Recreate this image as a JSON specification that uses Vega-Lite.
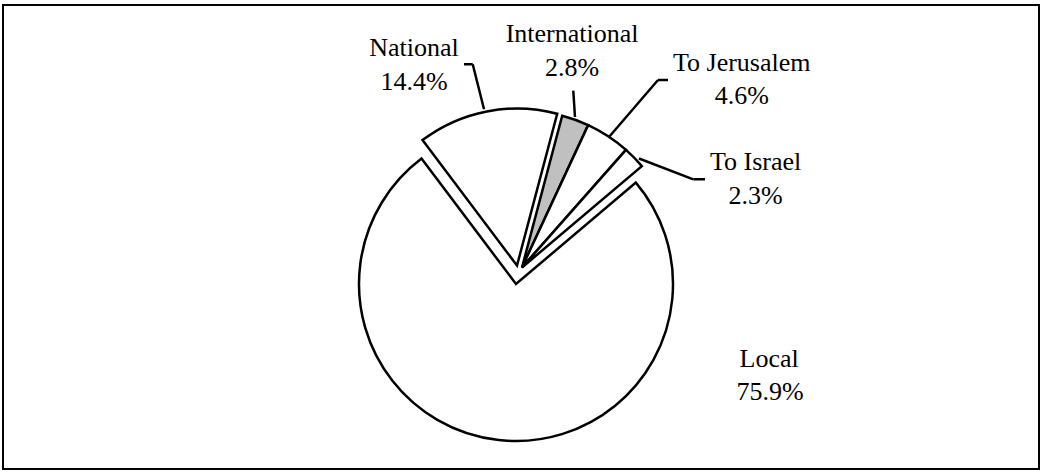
{
  "$schema": "https://vega.github.io/schema/vega-lite/v6.json",
  "width": 1036,
  "height": 464,
  "autosize": {"type": "none"},
  "padding": {"left": 3, "top": 5, "right": 5, "bottom": 3},
  "background": "white",
  "view": {"stroke": "black", "strokeWidth": 2},
  "config": {
    "view": {"stroke": "black", "strokeWidth": 2},
    "text": {"font": "Liberation Serif", "fontSize": 26, "fill": "black", "align": "center", "baseline": "alphabetic"}
  },
  "data": {
    "values": [
      {"cat": "National", "share": 0.144, "ord": 1},
      {"cat": "International", "share": 0.028, "ord": 2},
      {"cat": "To Jerusalem", "share": 0.046, "ord": 3},
      {"cat": "To Israel", "share": 0.023, "ord": 4},
      {"cat": "Local", "share": 0.759, "ord": 5}
    ]
  },
  "encoding": {
    "theta": {"field": "share", "type": "quantitative", "stack": true, "scale": {"range": [-0.64577, 5.63742]}},
    "order": {"field": "ord", "type": "quantitative"}
  },
  "layer": [
    {
      "mark": {"type": "arc", "radius": 157, "stroke": "black", "strokeWidth": 2.5, "fill": "white", "xOffset": -5, "yOffset": 47},
      "encoding": {"opacity": {"condition": {"test": "datum.cat === 'Local'", "value": 1}, "value": 0}}
    },
    {
      "mark": {"type": "arc", "radius": 157, "stroke": "black", "strokeWidth": 2.5, "fill": "white", "xOffset": -4, "yOffset": 28.5},
      "encoding": {"opacity": {"condition": {"test": "datum.cat === 'National'", "value": 1}, "value": 0}}
    },
    {
      "mark": {"type": "arc", "radius": 157, "stroke": "black", "strokeWidth": 2.5, "xOffset": 1, "yOffset": 30.5},
      "encoding": {
        "fill": {"condition": {"test": "datum.cat === 'International'", "value": "#c0c0c0"}, "value": "white"},
        "opacity": {"condition": {"test": "datum.cat === 'International' || datum.cat === 'To Jerusalem' || datum.cat === 'To Israel'", "value": 1}, "value": 0}
      }
    },
    {
      "mark": {"type": "arc", "radius": 96.4, "radius2": 50, "padAngle": 3, "fill": "transparent", "stroke": "black", "strokeWidth": 2.5, "thetaOffset": -0.0525, "theta2Offset": -0.0525, "xOffset": -24.8, "yOffset": -79.2},
      "encoding": {"opacity": {"condition": {"test": "datum.cat === 'National'", "value": 1}, "value": 0}}
    },
    {
      "mark": {"type": "arc", "radius": 58.7, "radius2": 50, "padAngle": 3, "fill": "transparent", "stroke": "black", "strokeWidth": 2.5, "thetaOffset": -1.3774, "theta2Offset": -1.3774, "xOffset": 1.7, "yOffset": -172.7},
      "encoding": {"opacity": {"condition": {"test": "datum.cat === 'National'", "value": 1}, "value": 0}}
    },
    {
      "mark": {"type": "arc", "radius": 76.4, "radius2": 50, "padAngle": 3, "fill": "transparent", "stroke": "black", "strokeWidth": 2.5, "thetaOffset": -0.4115, "theta2Offset": -0.4115, "xOffset": 57.2, "yOffset": -70.1},
      "encoding": {"opacity": {"condition": {"test": "datum.cat === 'International'", "value": 1}, "value": 0}}
    },
    {
      "mark": {"type": "arc", "radius": 125.2, "radius2": 50, "padAngle": 3, "fill": "transparent", "stroke": "black", "strokeWidth": 2.5, "thetaOffset": 0.1307, "theta2Offset": 0.1307, "xOffset": 55.4, "yOffset": -62.1},
      "encoding": {"opacity": {"condition": {"test": "datum.cat === 'To Jerusalem'", "value": 1}, "value": 0}}
    },
    {
      "mark": {"type": "arc", "radius": 60, "radius2": 50, "padAngle": 3, "fill": "transparent", "stroke": "black", "strokeWidth": 2.5, "thetaOffset": 0.9913, "theta2Offset": 0.9913, "xOffset": 87, "yOffset": -157},
      "encoding": {"opacity": {"condition": {"test": "datum.cat === 'To Jerusalem'", "value": 1}, "value": 0}}
    },
    {
      "mark": {"type": "arc", "radius": 108.2, "radius2": 50, "padAngle": 3, "fill": "transparent", "stroke": "black", "strokeWidth": 2.5, "thetaOffset": 1.1404, "theta2Offset": 1.1404, "xOffset": 71.3, "yOffset": -96.4},
      "encoding": {"opacity": {"condition": {"test": "datum.cat === 'To Israel'", "value": 1}, "value": 0}}
    },
    {
      "mark": {"type": "arc", "radius": 61.7, "radius2": 50, "padAngle": 3, "fill": "transparent", "stroke": "black", "strokeWidth": 2.5, "thetaOffset": 0.7746, "theta2Offset": 0.7746, "xOffset": 122.3, "yOffset": -57.7},
      "encoding": {"opacity": {"condition": {"test": "datum.cat === 'To Israel'", "value": 1}, "value": 0}}
    },
    {
      "mark": {"type": "text", "radius": 215, "dx": -65.7, "dy": 30},
      "encoding": {"text": {"field": "cat"}, "opacity": {"condition": {"test": "datum.cat === 'National'", "value": 1}, "value": 0}}
    },
    {
      "mark": {"type": "text", "radius": 215, "dx": -65.7, "dy": 64},
      "encoding": {"text": {"field": "share", "type": "quantitative", "format": ".1%"}, "opacity": {"condition": {"test": "datum.cat === 'National'", "value": 1}, "value": 0}}
    },
    {
      "mark": {"type": "text", "radius": 215, "dx": -22, "dy": 7},
      "encoding": {"text": {"field": "cat"}, "opacity": {"condition": {"test": "datum.cat === 'International'", "value": 1}, "value": 0}}
    },
    {
      "mark": {"type": "text", "radius": 215, "dx": -22, "dy": 41},
      "encoding": {"text": {"field": "share", "type": "quantitative", "format": ".1%"}, "opacity": {"condition": {"test": "datum.cat === 'International'", "value": 1}, "value": 0}}
    },
    {
      "mark": {"type": "text", "radius": 215, "dx": 103, "dy": 14},
      "encoding": {"text": {"field": "cat"}, "opacity": {"condition": {"test": "datum.cat === 'To Jerusalem'", "value": 1}, "value": 0}}
    },
    {
      "mark": {"type": "text", "radius": 215, "dx": 103, "dy": 47},
      "encoding": {"text": {"field": "share", "type": "quantitative", "format": ".1%"}, "opacity": {"condition": {"test": "datum.cat === 'To Jerusalem'", "value": 1}, "value": 0}}
    },
    {
      "mark": {"type": "text", "radius": 215, "dx": 81, "dy": 83},
      "encoding": {"text": {"field": "cat"}, "opacity": {"condition": {"test": "datum.cat === 'To Israel'", "value": 1}, "value": 0}}
    },
    {
      "mark": {"type": "text", "radius": 215, "dx": 81, "dy": 117},
      "encoding": {"text": {"field": "share", "type": "quantitative", "format": ".1%"}, "opacity": {"condition": {"test": "datum.cat === 'To Israel'", "value": 1}, "value": 0}}
    },
    {
      "mark": {"type": "text", "radius": 215, "dx": 272, "dy": -84},
      "encoding": {"text": {"field": "cat"}, "opacity": {"condition": {"test": "datum.cat === 'Local'", "value": 1}, "value": 0}}
    },
    {
      "mark": {"type": "text", "radius": 215, "dx": 273, "dy": -51},
      "encoding": {"text": {"field": "share", "type": "quantitative", "format": ".1%"}, "opacity": {"condition": {"test": "datum.cat === 'Local'", "value": 1}, "value": 0}}
    }
  ]
}
